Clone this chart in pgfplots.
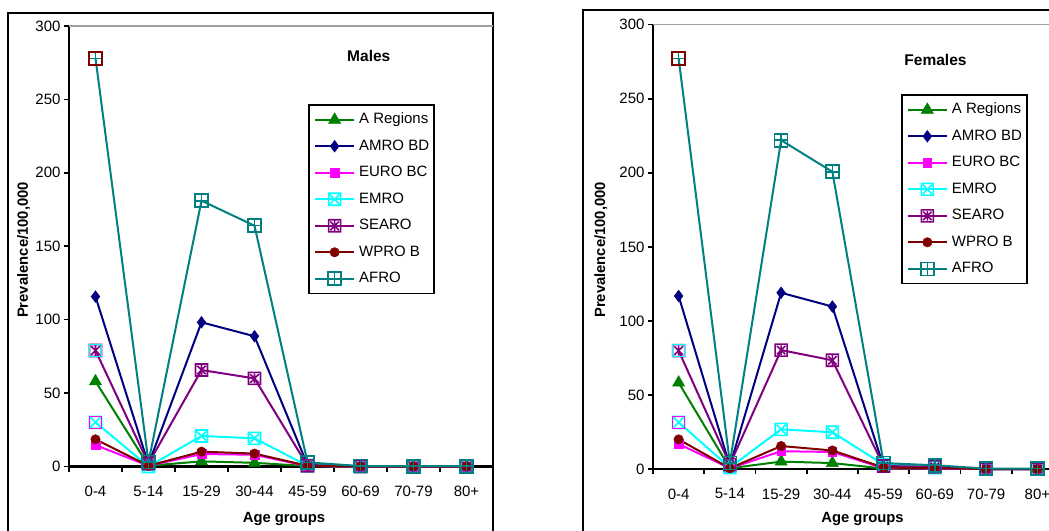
\documentclass[border=0pt]{standalone}
\usepackage{pgfplots}
\pgfplotsset{compat=1.18}
\usepackage{fontspec}
\setmainfont{Liberation Sans}
\definecolor{cA}{RGB}{0,128,0}
\definecolor{cAM}{RGB}{0,0,128}
\definecolor{cEU}{RGB}{255,0,255}
\definecolor{cEM}{RGB}{0,255,255}
\definecolor{cSE}{RGB}{128,0,128}
\definecolor{cWP}{RGB}{128,0,0}
\definecolor{cAF}{RGB}{0,128,128}
\pgfdeclareplotmark{sqx}{%
  \pgfpathrectangle{\pgfpoint{-\pgfplotmarksize}{-\pgfplotmarksize}}{\pgfpoint{2\pgfplotmarksize}{2\pgfplotmarksize}}%
  \pgfpathmoveto{\pgfpoint{-0.75\pgfplotmarksize}{-0.75\pgfplotmarksize}}\pgfpathlineto{\pgfpoint{0.75\pgfplotmarksize}{0.75\pgfplotmarksize}}%
  \pgfpathmoveto{\pgfpoint{-0.75\pgfplotmarksize}{0.75\pgfplotmarksize}}\pgfpathlineto{\pgfpoint{0.75\pgfplotmarksize}{-0.75\pgfplotmarksize}}%
  \pgfusepathqstroke}
\pgfdeclareplotmark{sqstar}{%
  \pgfpathrectangle{\pgfpoint{-\pgfplotmarksize}{-\pgfplotmarksize}}{\pgfpoint{2\pgfplotmarksize}{2\pgfplotmarksize}}%
  \pgfpathmoveto{\pgfpoint{-0.7\pgfplotmarksize}{-0.7\pgfplotmarksize}}\pgfpathlineto{\pgfpoint{0.7\pgfplotmarksize}{0.7\pgfplotmarksize}}%
  \pgfpathmoveto{\pgfpoint{-0.7\pgfplotmarksize}{0.7\pgfplotmarksize}}\pgfpathlineto{\pgfpoint{0.7\pgfplotmarksize}{-0.7\pgfplotmarksize}}%
  \pgfpathmoveto{\pgfpoint{0pt}{-0.8\pgfplotmarksize}}\pgfpathlineto{\pgfpoint{0pt}{0.8\pgfplotmarksize}}%
  \pgfusepathqstroke}
\pgfdeclareplotmark{sqplus}{%
  \pgfpathrectangle{\pgfpoint{-\pgfplotmarksize}{-\pgfplotmarksize}}{\pgfpoint{2\pgfplotmarksize}{2\pgfplotmarksize}}%
  \pgfpathmoveto{\pgfpoint{-\pgfplotmarksize}{0pt}}\pgfpathlineto{\pgfpoint{\pgfplotmarksize}{0pt}}%
  \pgfpathmoveto{\pgfpoint{0pt}{-\pgfplotmarksize}}\pgfpathlineto{\pgfpoint{0pt}{\pgfplotmarksize}}%
  \pgfusepathqstroke}
\pgfplotsset{
  panel/.style={
    scale only axis,
    xmin=-0.5, xmax=7.5, ymin=0, ymax=300,
    axis x line*=bottom, axis y line*=left,
    axis line style={line width=2.2pt, black},
    clip=false,
    /pgf/number format/assume math mode=true,
    ticklabel style={font=\fontsize{15}{18}\selectfont},
    tick align=outside,
    major tick length=5pt,
    tick style={line width=1.6pt, black},
    ytick={0,50,100,150,200,250,300},
    xtick={-0.5,0.5,1.5,2.5,3.5,4.5,5.5,6.5,7.5},
    xticklabels={},
    extra x ticks={0,1,2,3,4,5,6,7},
    extra x tick labels={0-4,5-14,15-29,30-44,45-59,60-69,70-79,80+},
    extra x tick style={major tick length=0pt, xticklabel style={yshift=-16pt}},
    label style={font=\bfseries\fontsize{14.8}{17}\selectfont},
    title style={font=\bfseries\fontsize{15.5}{18}\selectfont},
    legend style={draw=black, line width=1.6pt, fill=white,
      font=\fontsize{15}{17}\selectfont,
      inner xsep=5pt, inner ysep=8pt, row sep=13pt,
      nodes={inner sep=0pt, text height=10.5pt, text depth=3pt},
      column sep=4pt},
    legend cell align=left,
    legend image code/.code={\draw[line width=2pt, mark repeat=2,mark phase=2] plot coordinates {(0pt,0pt) (19.5pt,0pt) (39pt,0pt)};},
  },
  sA/.style={cA, line width=2pt, mark=triangle*, mark size=7pt, mark options={solid, line width=0.5pt, fill=cA}},
  sAM/.style={cAM, line width=2pt, mark=diamond*, mark size=5.8pt, mark options={solid, line width=0.5pt, fill=cAM}},
  sEU/.style={cEU, line width=2pt, mark=square*, mark size=4.3pt, mark options={solid, line width=0.5pt, fill=cEU}},
  sEM/.style={cEM, line width=2pt, mark=sqx, mark size=6pt, mark options={solid, line width=1.6pt}},
  sSE/.style={cSE, line width=2pt, mark=sqstar, mark size=6pt, mark options={solid, line width=1.6pt}},
  sWP/.style={cWP, line width=2pt, mark=*, mark size=4.7pt, mark options={solid, line width=0.5pt, fill=cWP}},
  sAF/.style={cAF, line width=2pt, mark=sqplus, mark size=6.5pt, mark options={solid, line width=1.6pt}},
}
\begin{document}
\begin{tikzpicture}[x=1pt,y=1pt]
\path[use as bounding box] (0,0) rectangle (1049,530);
\clip (0,0) rectangle (1049,530);
\fill[white] (0,0) rectangle (1049,530);
% frames
\draw[line width=2.2pt, black] (8.3,-5) -- (8.3,517.3) -- (492.7,517.3) -- (492.7,-5);
\draw[line width=2.2pt, black] (583,-5) -- (583,520) -- (1060,520);
% ---------- Males ----------
\begin{axis}[panel,
  at={(69pt,63.5pt)}, anchor=south west, width=424pt, height=440.5pt,
  xlabel={Age groups}, ylabel={Prevalence/100,000},
  xlabel style={at={(axis description cs:0.507,-0.120)}, anchor=center},
  ylabel style={at={(axis description cs:-0.1068,0.4915)}, anchor=center},
  title={Males}, title style={at={(axis description cs:0.707,0.932)}, anchor=center, yshift=-6pt},
  legend style={at={(axis description cs:0.5644,0.823)}, anchor=north west},
]
\draw[line width=1.5pt, gray!75] (rel axis cs:0,1) -- (rel axis cs:1,1);
\addplot[sA] coordinates {(0,58) (1,0.5) (2,3.5) (3,2.5) (4,0.3) (5,0) (6,0) (7,0)};
\addplot[sAM] coordinates {(0,115.7) (1,1.5) (2,98.2) (3,88.7) (4,1) (5,0.2) (6,0) (7,0)};
\addplot[sEU] coordinates {(0,14.6) (1,0.5) (2,8.5) (3,8) (4,0.3) (5,0) (6,0) (7,0)};
\addplot[sEM] coordinates {(0,30.1) (1,0) (2,20.8) (3,19.2) (4,0.5) (5,0) (6,0) (7,0)};
\addplot[sSE] coordinates {(0,79) (1,2) (2,65.7) (3,60) (4,0.5) (5,0) (6,0) (7,0)};
\addplot[sWP] coordinates {(0,18.5) (1,0.5) (2,10.1) (3,8.8) (4,0.5) (5,0) (6,0) (7,0)};
\addplot[sAF] coordinates {(0,278) (1,3) (2,181) (3,164) (4,2.8) (5,0.3) (6,0.2) (7,0.2)};
\addplot[forget plot, only marks, mark=square, mark size=6pt, mark options={draw=cEU, line width=1.6pt}] coordinates {(0,30.1)};
\addplot[forget plot, only marks, mark=square, mark size=6pt, mark options={draw=cEM, line width=1.6pt}] coordinates {(0,79)};
\addplot[forget plot, only marks, mark=square, mark size=6.5pt, mark options={draw=cWP, line width=1.6pt}] coordinates {(0,278)};
\legend{A Regions, AMRO BD, EURO BC, EMRO, SEARO, WPRO B, AFRO}
\end{axis}
% ---------- Females ----------
\begin{axis}[panel,
  at={(653pt,61pt)}, anchor=south west, width=410pt, height=444.3pt,
  xlabel={Age groups}, ylabel={Prevalence/100,000},
  xlabel style={at={(axis description cs:0.511,-0.1134)}, anchor=center},
  ylabel style={at={(axis description cs:-0.127,0.493)}, anchor=center},
  title={Females}, title style={at={(axis description cs:0.689,0.921)}, anchor=center, yshift=-6pt},
  legend style={at={(axis description cs:0.605,0.844)}, anchor=north west},
]
\draw[line width=1.5pt, gray!75] (rel axis cs:0,1) -- (rel axis cs:1,1);
\addplot[sA] coordinates {(0,58.3) (1,0.5) (2,5) (3,4) (4,0.3) (5,0.2) (6,0) (7,0)};
\addplot[sAM] coordinates {(0,116.8) (1,2) (2,119) (3,109.7) (4,1.5) (5,0.5) (6,0) (7,0)};
\addplot[sEU] coordinates {(0,16.9) (1,0.5) (2,12) (3,11.5) (4,0.5) (5,0.3) (6,0) (7,0)};
\addplot[sEM] coordinates {(0,31.5) (1,1) (2,26.8) (3,24.8) (4,3) (5,1) (6,0) (7,0)};
\addplot[sSE] coordinates {(0,79.9) (1,3) (2,80.3) (3,73.4) (4,2) (5,1.5) (6,0) (7,0)};
\addplot[sWP] coordinates {(0,20) (1,0.5) (2,15.5) (3,12.5) (4,1) (5,0.5) (6,0) (7,0)};
\addplot[sAF] coordinates {(0,277.3) (1,4) (2,222) (3,200.7) (4,4) (5,2.5) (6,0.3) (7,0.3)};
\addplot[forget plot, only marks, mark=square, mark size=6pt, mark options={draw=cEU, line width=1.6pt}] coordinates {(0,31.5)};
\addplot[forget plot, only marks, mark=square, mark size=6pt, mark options={draw=cEM, line width=1.6pt}] coordinates {(0,79.9)};
\addplot[forget plot, only marks, mark=square, mark size=6.5pt, mark options={draw=cWP, line width=1.6pt}] coordinates {(0,277.3)};
\legend{A Regions, AMRO BD, EURO BC, EMRO, SEARO, WPRO B, AFRO}
\end{axis}
\end{tikzpicture}
\end{document}
